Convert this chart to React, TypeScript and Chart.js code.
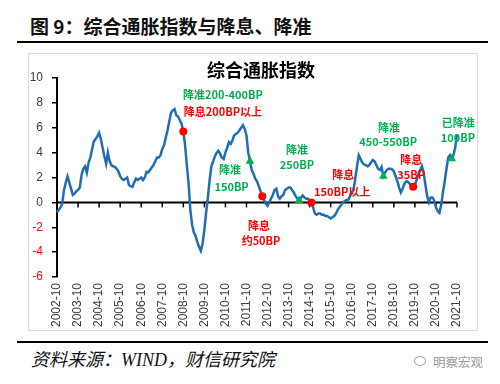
import React, { useEffect, useRef } from 'react';
import { Chart, registerables } from 'chart.js';

Chart.register(...registerables);

// Monthly composite inflation index, 2002-10 .. 2021-10
const seriesValues: number[] = [
  -0.8, -0.6, -0.4, -0.1, 1.0, 1.6, 2.1, 1.6, 1.1, 0.6, 0.7, 0.9,
  1.0, 1.2, 2.2, 2.7, 2.9, 2.4, 3.2, 3.6, 4.3, 4.9, 5.1, 5.3,
  5.6, 5.1, 4.4, 3.7, 3.1, 4.0, 3.3, 3.0, 2.9, 2.85, 2.7, 2.5,
  2.1, 1.9, 1.8, 1.9, 2.0, 1.4, 1.3, 1.25, 1.6, 1.9, 1.8, 1.9,
  2.0, 1.8, 2.0, 2.45, 2.4, 2.6, 2.8, 3.0, 3.3, 3.6, 3.6, 3.8,
  4.3, 4.6, 5.2, 5.8, 6.5, 7.2, 7.4, 7.5, 7.0, 6.9, 6.6, 6.3,
  5.7, 4.6, 3.0, 1.5, -0.6, -1.8, -2.4, -2.7, -3.2, -3.6, -3.9, -3.3,
  -2.2, -0.8, 0.4, 1.8, 2.9, 3.3, 3.7, 4.0, 4.15, 3.9, 3.6, 3.5,
  4.0, 4.4, 4.85, 4.7, 5.0, 5.4, 5.5, 5.6, 5.8, 6.0, 6.2, 5.9,
  5.4, 4.0, 3.3, 2.6, 2.3, 1.9, 1.7, 1.3, 0.9, 0.5, 0.2, -0.1,
  -0.25, 0.0, 0.3, 0.6, 1.0, 1.1, 0.5, 0.3, 0.5, 0.6, 1.0, 1.1,
  1.2, 1.2, 1.0, 0.8, 0.5, 0.3, 0.15, 0.35, 0.55, 0.4, 0.3, 0.3,
  0.1, 0.0, -0.4, -0.9, -1.0, -0.9, -0.9, -1.0, -1.0, -1.1, -1.1, -1.2,
  -1.3, -1.2, -1.1, -0.9, -0.6, -0.4, -0.2, 0.0, 0.1, 0.2, 0.2, 0.5,
  0.8, 1.0, 1.9, 2.9, 3.8, 3.5, 3.2, 3.05, 3.0, 2.9, 3.0, 3.2,
  3.4, 3.3, 3.0, 2.7, 2.6, 2.85, 2.1, 2.4, 2.6, 2.7, 2.7, 2.65,
  2.5, 2.1, 1.7, 1.2, 0.8, 1.1, 1.5, 1.7, 1.65, 1.5, 1.35, 1.25,
  1.4, 1.8, 2.3, 2.6, 2.9, 2.4, 1.4, 0.5, 0.0, 0.4, 0.4, 0.15,
  -0.4, -0.7, -0.85, -0.2, 0.8, 1.7, 2.7, 3.6, 3.8, 3.5, 3.8, 4.4, 5.5,
];

const startYear = 2002;
const startMonth = 10;
const categories: string[] = seriesValues.map((_, i) => {
  const m = startMonth - 1 + i;
  const y = startYear + Math.floor(m / 12);
  const mm = (m % 12) + 1;
  return `${y}-${String(mm).padStart(2, '0')}`;
});

const rateCutMonths = ['2008-10', '2012-07', '2014-11', '2019-09'];
const rrrCutMonths = ['2011-12', '2014-04', '2018-04', '2021-07'];

const yMin = -6;
const yMax = 10;
const yStep = 2;

const chartTitle = '综合通胀指数';

const annotTexts = ['降准200-400BP', '降息200BP以上', '降准', '150BP', '降息', '约50BP', '降准', '250BP', '降息', '150BP以上', '降准', '450-550BP', '降息', '35BP', '已降准', '100BP'];
const annotKinds = ['g', 'r', 'g', 'g', 'r', 'r', 'g', 'g', 'r', 'r', 'g', 'g', 'r', 'r', 'g', 'g'];
const annotX = [94.6, 94.6, 98.6, 99.5, 115.1, 116.3, 136.8, 136.8, 163.1, 162.5, 189.2, 188.8, 201.9, 201.9, 228.7, 228.5];
const annotY = [8.63, 7.28, 2.58, 1.23, -1.85, -3.12, 4.25, 3.06, 2.18, 0.83, 6.02, 4.86, 3.44, 2.23, 6.4, 5.19];

const GREEN = '#00B050';
const RED = '#FF0000';
const BLUE = '#1F6EB5';
const CJK = '"Noto Sans CJK SC", sans-serif';

function markerData(months: string[]) {
  return categories.map((c, i) => (months.includes(c) ? seriesValues[i] : null));
}

const overlayPlugin = {
  id: 'overlay',
  beforeDatasetsDraw(chart: any) {
    const { ctx, scales } = chart;
    const x = scales.x;
    const y = scales.y;
    const y0 = y.getPixelForValue(0);
    ctx.save();
    ctx.strokeStyle = '#000';
    ctx.lineWidth = 2;
    ctx.beginPath();
    ctx.moveTo(x.left, y0);
    ctx.lineTo(x.right, y0);
    ctx.stroke();
    ctx.lineWidth = 1.5;
    x.ticks.forEach((t: any) => {
      const px = x.getPixelForValue(t.value);
      ctx.beginPath();
      ctx.moveTo(px, y0);
      ctx.lineTo(px, y0 + 5);
      ctx.stroke();
    });
    ctx.restore();
  },
  afterDatasetsDraw(chart: any) {
    const { ctx, scales } = chart;
    const x = scales.x;
    const y = scales.y;
    ctx.save();
    ctx.textAlign = 'center';
    ctx.textBaseline = 'middle';
    ctx.fillStyle = '#000';
    ctx.font = `bold 18px ${CJK}`;
    ctx.fillText(chartTitle, 233, 17);
    ctx.font = `bold 11px ${CJK}`;
    annotTexts.forEach((t, i) => {
      ctx.fillStyle = annotKinds[i] === 'g' ? GREEN : RED;
      ctx.fillText(t, x.getPixelForValue(annotX[i]), y.getPixelForValue(annotY[i]));
    });
    ctx.restore();
  },
};

function ChartBox() {
  const ref = useRef<HTMLCanvasElement | null>(null);
  useEffect(() => {
    if (!ref.current) return;
    const chart = new Chart(ref.current, {
      type: 'line',
      data: {
        labels: categories,
        datasets: [
          {
            data: seriesValues,
            borderColor: BLUE,
            borderWidth: 2.5,
            pointRadius: 0,
            tension: 0,
            order: 3,
          },
          {
            data: markerData(rateCutMonths),
            showLine: false,
            pointStyle: 'circle',
            pointRadius: 4,
            pointBackgroundColor: RED,
            pointBorderColor: RED,
            pointBorderWidth: 0,
            order: 1,
          },
          {
            data: markerData(rrrCutMonths),
            showLine: false,
            pointStyle: 'triangle',
            pointRadius: 5,
            pointBackgroundColor: GREEN,
            pointBorderColor: GREEN,
            pointBorderWidth: 0,
            order: 2,
          },
        ],
      },
      options: {
        responsive: false,
        animation: false,
        layout: { padding: { left: 0, top: 25, right: 22, bottom: 0 } },
        plugins: { legend: { display: false }, tooltip: { enabled: false }, title: { display: false } },
        scales: {
          x: {
            type: 'category',
            offset: false,
            afterBuildTicks: (scale: any) => {
              scale.ticks = scale.ticks.filter((t: any) => t.value % 12 === 0);
            },
            afterFit: (scale: any) => {
              scale.height = 55;
            },
            grid: { display: false, drawTicks: false },
            border: { display: false },
            ticks: {
              autoSkip: false,
              maxRotation: 90,
              minRotation: 90,
              padding: 6,
              color: '#404040',
              font: { family: '"Liberation Sans", Arial, sans-serif', size: 12 },
              callback: function (this: any, value: any) {
                return this.getLabelForValue(value);
              },
            },
          },
          y: {
            min: yMin,
            max: yMax,
            afterFit: (scale: any) => {
              scale.width = 29;
            },
            grid: { drawOnChartArea: false, drawTicks: true, tickLength: 5, color: '#000', lineWidth: 1.5 },
            border: { display: true, color: '#000', width: 2 },
            ticks: {
              stepSize: yStep,
              padding: 9,
              color: (c: any) => (c.tick && c.tick.value < 0 ? RED : '#404040'),
              font: { family: '"Liberation Sans", Arial, sans-serif', size: 12 },
            },
          },
        },
      },
      plugins: [overlayPlugin],
    });
    return () => chart.destroy();
  }, []);
  return <canvas ref={ref} width={451} height={279} style={{ position: 'absolute', left: 28, top: 53, width: 451, height: 279 }} />;
}

export default function App() {
  return (
    <div style={{ position: 'fixed', left: 0, top: 0, width: 500, height: 384, background: '#fff', overflow: 'hidden' }}>
      <div style={{ position: 'absolute', left: 30, top: 15, fontFamily: CJK, fontWeight: 'bold', fontSize: 19, lineHeight: '22px', color: '#111', whiteSpace: 'nowrap' }}>
        图 9：综合通胀指数与降息、降准
      </div>
      <div style={{ position: 'absolute', left: 17, top: 41, width: 471, height: 2, background: '#000' }} />
      <div style={{ position: 'absolute', left: 28, top: 53, width: 450, height: 278, border: '1px solid #d9d9d9', boxSizing: 'border-box' }} />
      <ChartBox />
      <div style={{ position: 'absolute', left: 17, top: 341, width: 471, height: 2, background: '#000' }} />
      <div style={{ position: 'absolute', left: 31, top: 349, fontFamily: `"Liberation Serif", ${CJK}`, fontStyle: 'italic', fontSize: 18, lineHeight: '22px', color: '#111', whiteSpace: 'nowrap' }}>
        资料来源：WIND，财信研究院
      </div>
      <div style={{ position: 'absolute', left: 414, top: 356, width: 12, height: 10, borderRadius: '50%', border: '1px solid #aaa', boxSizing: 'border-box' }} />
      <div style={{ position: 'absolute', left: 433, top: 353, fontFamily: CJK, fontSize: 12.5, lineHeight: '18px', color: '#999', whiteSpace: 'nowrap' }}>
        明察宏观
      </div>
    </div>
  );
}
